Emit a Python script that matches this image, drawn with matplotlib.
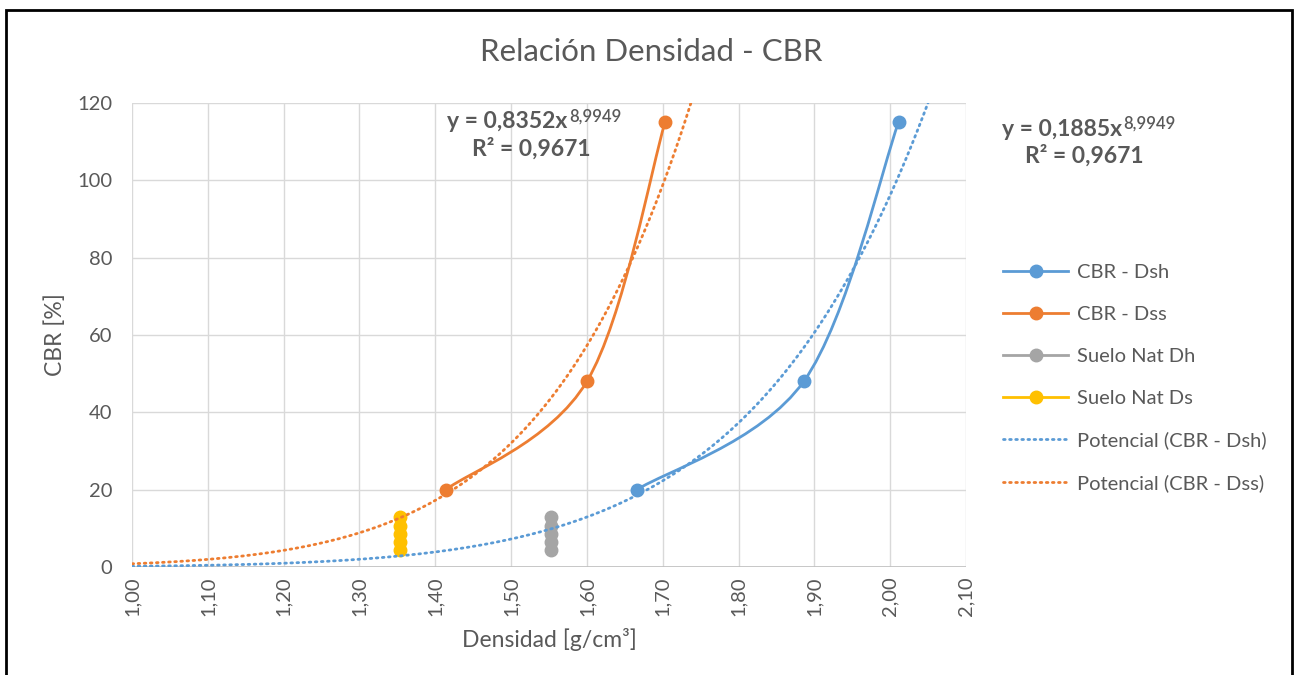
import numpy as np
import matplotlib
matplotlib.use("Agg")
import matplotlib.pyplot as plt
from matplotlib.path import Path
from matplotlib.patches import PathPatch, Rectangle
from matplotlib.lines import Line2D
from matplotlib.ticker import FuncFormatter

plt.rcParams['font.family'] = ['Lato', 'DejaVu Sans']

# Ensayos CBR: densidad seca/húmeda vs CBR
cbr = [20, 48, 115]
dens_sh = [1.666, 1.886, 2.011]
dens_ss = [1.414, 1.600, 1.703]

# Suelo natural (densidad constante, varios CBR)
suelo_cbr = [4.5, 6.5, 8.5, 10.5, 13]
suelo_dh = [1.553] * 5
suelo_ds = [1.353] * 5

# Ajuste potencial y = a * x^b
a_sh, a_ss, b_pot, r2 = 0.1885, 0.8352, 8.9949, 0.9671

BLUE = "#5B9BD5"
ORANGE = "#ED7D31"
GRAY = "#A5A5A5"
YELLOW = "#FFC000"
TXT = "#595959"


def smooth_path(xs, ys):
    # curva suavizada tipo Excel (Bezier con tangentes de Catmull-Rom)
    p = np.column_stack([xs, ys]).astype(float)
    ext = np.vstack([p[0], p, p[-1]])
    verts = [p[0]]
    codes = [Path.MOVETO]
    for i in range(len(p) - 1):
        p0, p1, p2, p3 = ext[i], ext[i + 1], ext[i + 2], ext[i + 3]
        c1 = p1 + (p2 - p0) / 6.0
        c2 = p2 - (p3 - p1) / 6.0
        verts += [c1, c2, p2]
        codes += [Path.CURVE4] * 3
    return Path(verts, codes)


def coma(v, pos, fmt):
    return (fmt % v).replace(".", ",")


fig = plt.figure(figsize=(12.96, 6.75), dpi=100)
ax = fig.add_axes([132 / 1296, 1 - 567 / 675, (966 - 132) / 1296, (567 - 103) / 675])

lw = 2.0
ms = 9
dots = (0, (0.6, 1.6))
for xs, col in [(dens_sh, BLUE), (dens_ss, ORANGE)]:
    ax.add_patch(PathPatch(smooth_path(xs, cbr), fill=False, edgecolor=col,
                           lw=lw, zorder=3, capstyle='round'))
    ax.plot(xs, cbr, 'o', color=col, ms=ms, zorder=4)

ax.plot(suelo_dh, suelo_cbr, '-o', color=GRAY, ms=ms, lw=lw, zorder=4)
ax.plot(suelo_ds, suelo_cbr, '-o', color=YELLOW, ms=ms, lw=lw, zorder=4)

xt = np.linspace(1.0, 2.1, 400)
ax.plot(xt, a_sh * xt ** b_pot, color=BLUE, lw=2.0, ls=dots,
        dash_capstyle='round', zorder=5)
ax.plot(xt, a_ss * xt ** b_pot, color=ORANGE, lw=2.0, ls=dots,
        dash_capstyle='round', zorder=5)

ax.set_xlim(1.0, 2.1)
ax.set_ylim(0, 120)
ax.set_xticks(np.arange(1.0, 2.1001, 0.1))
ax.set_yticks(range(0, 121, 20))
ax.xaxis.set_major_formatter(FuncFormatter(lambda v, p: coma(v, p, "%.2f")))
ax.grid(True, color="#D9D9D9", lw=1.0)
ax.set_axisbelow(True)
for s in ax.spines.values():
    s.set_visible(False)
ax.axhline(0, color="#BFBFBF", lw=1.2, zorder=1)
ax.tick_params(axis='both', length=0, colors=TXT, labelsize=14.5)
ax.tick_params(axis='y', pad=14)
ax.tick_params(axis='x', pad=7, labelrotation=90)

ax.set_xlabel("Densidad [g/cm³]", color=TXT, fontsize=16.5, labelpad=8)
fig.text(55 / 1296, 1 - 335 / 675, "CBR [%]", color=TXT, fontsize=16.5,
         rotation=90, ha='center', va='center')

fig.text(651 / 1296, 1 - 52 / 675, "Relación Densidad - CBR", color=TXT,
         fontsize=22.5, ha='center', va='center')


def ecuacion(x0, y0, a, xr2, y2):
    t = fig.text(x0 / 1296, 1 - y0 / 675, ("y = %.4fx" % a).replace(".", ","),
                 color=TXT, fontsize=16.5, fontweight='bold', ha='left', va='center')
    ax.annotate(("%.4f" % b_pot).replace(".", ","), xy=(1.0, 1.0), xycoords=t,
                xytext=(1, 2), textcoords='offset points',
                color=TXT, fontsize=12, fontweight='semibold', ha='left', va='top',
                annotation_clip=False)
    fig.text(xr2 / 1296, 1 - y2 / 675, ("R² = %.4f" % r2).replace(".", ","),
             color=TXT, fontsize=16.5, fontweight='bold', ha='left', va='center')


ecuacion(447, 122, a_ss, 472, 149)
ecuacion(1002, 129, a_sh, 1025, 156)

handles = [
    Line2D([], [], color=BLUE, lw=lw, marker='o', ms=ms),
    Line2D([], [], color=ORANGE, lw=lw, marker='o', ms=ms),
    Line2D([], [], color=GRAY, lw=lw, marker='o', ms=ms),
    Line2D([], [], color=YELLOW, lw=lw, marker='o', ms=ms),
    Line2D([], [], color=BLUE, lw=2.0, ls=dots, dash_capstyle='round'),
    Line2D([], [], color=ORANGE, lw=2.0, ls=dots, dash_capstyle='round'),
]
labels = ["CBR - Dsh", "CBR - Dss", "Suelo Nat Dh", "Suelo Nat Ds",
          "Potencial (CBR - Dsh)", "Potencial (CBR - Dss)"]
leg = fig.legend(handles, labels, loc='upper left',
                 bbox_to_anchor=(1003 / 1296, 1 - 264 / 675), frameon=False,
                 fontsize=14.5, handlelength=3.25, handletextpad=0.4,
                 labelspacing=1.23, borderaxespad=0, borderpad=0)
for tx in leg.get_texts():
    tx.set_color(TXT)

fig.patches.append(Rectangle((6 / 1296, -0.02), 1286 / 1296, 0.02 + 1 - 10 / 675,
                             transform=fig.transFigure, fill=False,
                             edgecolor='black', lw=2.0))

fig.savefig("out.png", dpi=100)
